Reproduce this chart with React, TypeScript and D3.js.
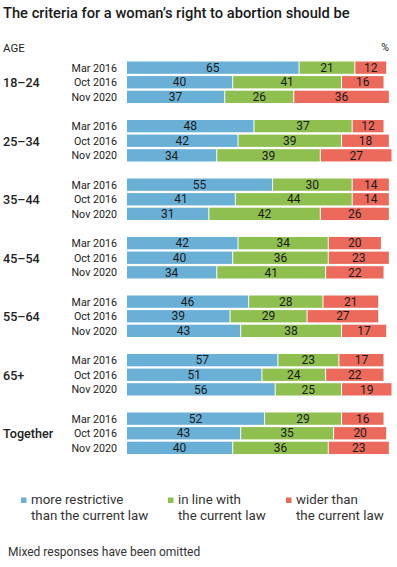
import React from "react";
import * as d3 from "d3";

const groups = ["18–24", "25–34", "35–44", "45–54", "55–64", "65+", "Together"];
const periods = ["Mar 2016", "Oct 2016", "Nov 2020"];
const restrictive = [
  [65, 40, 37],
  [48, 42, 34],
  [55, 41, 31],
  [42, 40, 34],
  [46, 39, 43],
  [57, 51, 56],
  [52, 43, 40],
];
const inLine = [
  [21, 41, 26],
  [37, 39, 39],
  [30, 44, 42],
  [34, 36, 41],
  [28, 29, 38],
  [23, 24, 25],
  [29, 35, 36],
];
const wider = [
  [12, 16, 36],
  [12, 18, 27],
  [14, 14, 26],
  [20, 23, 22],
  [21, 27, 17],
  [17, 22, 19],
  [16, 20, 23],
];
const seriesNames = ["more restrictive|than the current law", "in line with|the current law", "wider than|the current law"];
const colors = ["#6aafd5", "#8fc04f", "#ec6a5c"];

export default function App() {
  const W = 397, H = 567;
  const x = d3.scaleLinear().domain([0, 100]).range([127, 392.5]);
  const groupY = d3.scaleLinear().domain([0, 6]).range([61.5, 412.5]);
  const rowStep = 14.6;
  const barH = 12.3;
  const font = "Roboto, sans-serif";
  const series = [restrictive, inLine, wider];

  const legendX = [21, 168, 286];

  return (
    <svg width={W} height={H} style={{ position: "absolute", left: 0, top: 0, background: "#fff" }} fontFamily={font}>
      <rect width={W} height={H} fill="#fff" />
      <text x={3} y={18} fontSize={14.7} fontWeight={500} fill="#1a1a1a">The criteria for a woman’s right to abortion should be</text>
      <text x={3} y={52} fontSize={11.5} fill="#222">AGE</text>
      <text x={389} y={51} fontSize={10.5} fill="#222" textAnchor="end">%</text>
      {groups.map((g, gi) => {
        const gy = groupY(gi);
        return (
          <g key={g}>
            <text x={3} y={gy + rowStep + barH / 2 + 4.8} fontSize={12.6} fontWeight={500} fill="#222">{g}</text>
            {periods.map((p, pi) => {
              const y = gy + pi * rowStep;
              let cum = 0;
              return (
                <g key={p}>
                  <text x={117} y={y + barH / 2 + 3.9} fontSize={10.7} fill="#222" textAnchor="end">{p}</text>
                  {series.map((s, si) => {
                    const v = s[gi][pi];
                    const x0 = x(cum);
                    cum += v;
                    const x1 = x(cum);
                    return (
                      <g key={si}>
                        <rect x={x0} y={y} width={Math.max(0, x1 - x0 - 1)} height={barH} fill={colors[si]} />
                        <text x={(x0 + x1 - 1) / 2} y={y + barH / 2 + 4.2} fontSize={12} fill="#1a1a1a" textAnchor="middle">{v}</text>
                      </g>
                    );
                  })}
                </g>
              );
            })}
          </g>
        );
      })}
      {seriesNames.map((n, i) => {
        const lines = n.split("|");
        return (
          <g key={n}>
            <rect x={legendX[i]} y={497.5} width={5.5} height={5.5} fill={colors[i]} />
            <text x={legendX[i] + 10} y={503.5} fontSize={13.3} fill="#333">{lines[0]}</text>
            <text x={legendX[i] + 10} y={519.5} fontSize={13.3} fill="#333">{lines[1]}</text>
          </g>
        );
      })}
      <text x={8} y={556} fontSize={12} fill="#333">Mixed responses have been omitted</text>
    </svg>
  );
}
